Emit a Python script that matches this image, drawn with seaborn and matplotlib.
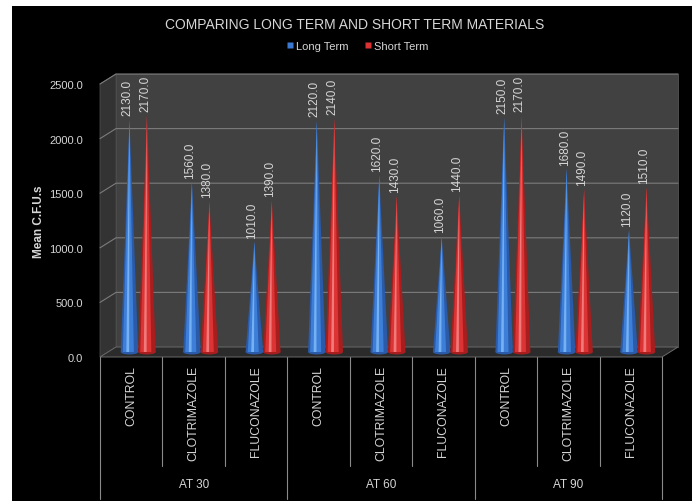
import numpy as np
import pandas as pd
import matplotlib
matplotlib.use("Agg")
import matplotlib.pyplot as plt
from matplotlib import transforms, font_manager
from matplotlib.patches import Polygon, Rectangle, Ellipse
from matplotlib.lines import Line2D
import seaborn as sns

# ---------------- data ----------------
groups = ["AT 30", "AT 60", "AT 90"]
treatments = ["CONTROL", "CLOTRIMAZOLE", "FLUCONAZOLE"]
long_term = [2130, 1560, 1010, 2120, 1620, 1060, 2150, 1680, 1120]
short_term = [2170, 1380, 1390, 2140, 1430, 1440, 2170, 1490, 1510]
series = ["Long Term", "Short Term"]
y_ticks = [0, 500, 1000, 1500, 2000, 2500]
title = "COMPARING LONG TERM AND SHORT TERM MATERIALS"
y_label = "Mean C.F.U.s"

slots = [f"{g}|{t}" for g in groups for t in treatments]
df = pd.DataFrame({
    "slot": slots * 2,
    "term": [series[0]] * len(slots) + [series[1]] * len(slots),
    "value": long_term + short_term,
})

# ---------------- style ----------------
sns.set_theme(style="dark")
avail = {f.name for f in font_manager.fontManager.ttflist}
fam = "Liberation Sans Narrow" if "Liberation Sans Narrow" in avail else "Liberation Sans"
plt.rcParams["font.family"] = [fam, "DejaVu Sans"]
TXT = "#d6d6d6"

W, H = 699, 502
fig = plt.figure(figsize=(W / 100, H / 100), dpi=100, facecolor="white")
ID = transforms.IdentityTransform()

# black panel
fig.add_artist(Rectangle((12, 0), 680, 495, transform=ID, facecolor="black",
                         edgecolor="none", zorder=-10))

ax = fig.add_axes([100 / W, (H - 358) / H, 562 / W, 273 / H])
ax.set_facecolor("none")

colors = {"Long Term": "#3a78d2", "Short Term": "#d83232"}
sns.barplot(data=df, x="slot", y="value", hue="term", order=slots,
            hue_order=series, palette=colors, width=0.56, gap=0,
            errorbar=None, ax=ax, legend=False, saturation=1)

ax.set_xlim(-0.5, len(slots) - 0.5)
ax.set_ylim(0, 2500)
for s in ax.spines.values():
    s.set_visible(False)
ax.set_xticks([])
ax.set_xlabel("")
ax.set_yticks(y_ticks)
ax.set_yticklabels([f"{v:.1f}" for v in y_ticks], color=TXT, fontsize=8)
ax.tick_params(axis="y", length=0, pad=12)
ax.set_ylabel(y_label, color=TXT, fontsize=8.5, fontweight="bold", labelpad=3)
ax.grid(False)

fig.canvas.draw()
DX, DY = 16, 10


def P(x, y, d):
    px, py = ax.transData.transform((x, y))
    return (px + DX * d, py + DY * d)


x0, x1 = -0.5, len(slots) - 0.5
ytop = y_ticks[-1]
# back wall
ax.add_patch(Polygon([P(x0, 0, 1), P(x1, 0, 1), P(x1, ytop, 1), P(x0, ytop, 1)],
                     closed=True, transform=ID, facecolor="#414141",
                     edgecolor="#555555", lw=0.6, zorder=0.1, clip_on=False))
# left wall
ax.add_patch(Polygon([P(x0, 0, 0), P(x0, 0, 1), P(x0, ytop, 1), P(x0, ytop, 0)],
                     closed=True, transform=ID, facecolor="#333333",
                     edgecolor="#4a4a4a", lw=0.6, zorder=0.1, clip_on=False))
# floor
ax.add_patch(Polygon([P(x0, 0, 0), P(x1, 0, 0), P(x1, 0, 1), P(x0, 0, 1)],
                     closed=True, transform=ID, facecolor="#2b2b2b",
                     edgecolor="#6a6a6a", lw=0.7, zorder=0.15, clip_on=False))
# gridlines
for v in y_ticks[1:]:
    a, b, c = P(x0, v, 0), P(x0, v, 1), P(x1, v, 1)
    ax.add_line(Line2D([a[0], b[0], c[0]], [a[1], b[1], c[1]], transform=ID,
                       color="#7c7c7c", lw=0.8, zorder=0.2, clip_on=False))

# cones from seaborn bars
cone_tr = transforms.offset_copy(ax.transData, fig, x=7, y=5, units="dots")
lab_tr = transforms.offset_copy(ax.transData, fig, x=5, y=9, units="dots")
shades = {
    "#3a78d2": ("#2a5aa8", "#3d7fd8", "#74b0f2"),
    "#d83232": ("#a81e1e", "#dc3434", "#f07a7a"),
}
bars = [p for p in ax.patches if isinstance(p, Rectangle) and p.get_height() > 0]
for p in bars:
    x, w, h = p.get_x(), p.get_width(), p.get_height()
    fc = matplotlib.colors.to_hex(p.get_facecolor())
    dark, mid, hi = shades.get(fc, (fc, fc, fc))
    p.set_visible(False)
    cx = x + w / 2
    ax.add_patch(Ellipse((cx, 0), w, 45, transform=cone_tr, facecolor=dark,
                         edgecolor="none", zorder=2))
    ax.add_patch(Polygon([(x, 0), (x + w, 0), (cx, h)], closed=True,
                         transform=cone_tr, facecolor=dark, edgecolor="none", zorder=2))
    ax.add_patch(Polygon([(x + 0.12 * w, 0), (x + 0.75 * w, 0), (cx, h)], closed=True,
                         transform=cone_tr, facecolor=mid, edgecolor="none", zorder=2.1))
    ax.add_patch(Polygon([(x + 0.32 * w, 0), (x + 0.48 * w, 0), (cx, h)], closed=True,
                         transform=cone_tr, facecolor=hi, edgecolor="none", zorder=2.2))
    ax.text(cx, h, f"{h:.1f}", rotation=90, ha="center", va="bottom",
            transform=lab_tr, color=TXT, fontsize=8.5, zorder=3)

# category table
blend = transforms.blended_transform_factory(ax.transData, ID)
for i in range(len(slots) + 1):
    xb = i - 0.5
    ybot = 2 if i % len(treatments) == 0 else H - 467
    ax.add_line(Line2D([xb, xb], [H - 358, ybot], transform=blend,
                       color="#8a8a8a", lw=0.8, clip_on=False))
for i, s in enumerate(slots):
    t = s.split("|")[1]
    ax.text(i, H - 366, t, rotation=90, ha="center", va="top", transform=blend,
            color=TXT, fontsize=8.8, clip_on=False)
for gi, g in enumerate(groups):
    ax.text(gi * len(treatments) + 1, H - 485, g, ha="center", va="center",
            transform=blend, color=TXT, fontsize=8.5, clip_on=False)

# title and legend
fig.text(355 / W, 1 - 25 / H, title, ha="center", va="center", color=TXT, fontsize=10)
handles = [Line2D([], [], marker="s", ls="none", markersize=4,
                  markerfacecolor=colors[s], markeredgecolor="none", label=s)
           for s in series]
leg = fig.legend(handles=handles, loc="center", bbox_to_anchor=(357 / W, 1 - 47 / H),
                 ncol=2, frameon=False, fontsize=8, handletextpad=0.1,
                 columnspacing=1.4, handlelength=0.8)
for t in leg.get_texts():
    t.set_color(TXT)

fig.savefig("out.png", dpi=100, facecolor="white")
